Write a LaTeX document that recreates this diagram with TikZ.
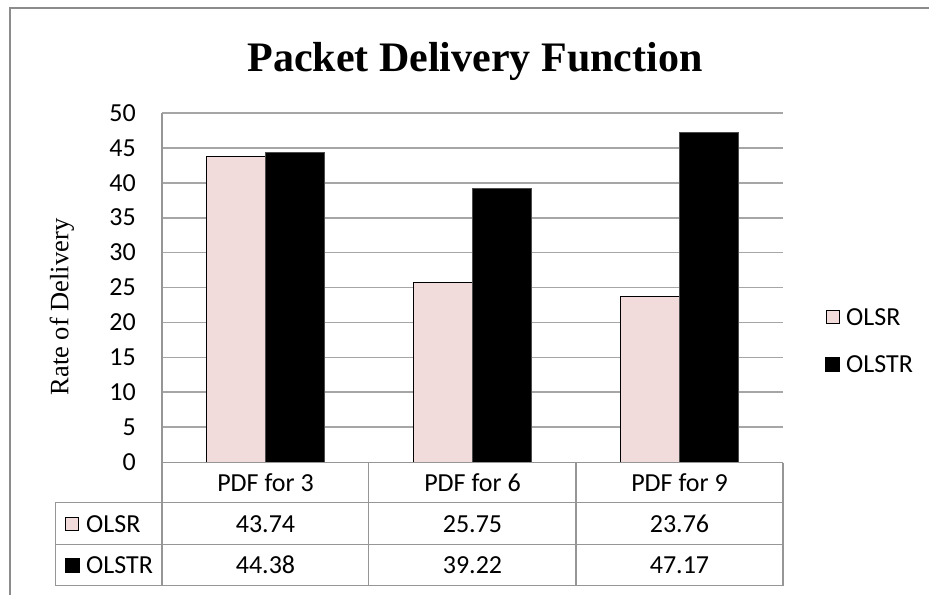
\documentclass[tikz,border=0pt]{standalone}
\usepackage{fontspec}
\setmainfont{Carlito}
\newfontfamily\tnr{Liberation Serif}
\definecolor{pinkbar}{HTML}{F2DCDB}
\definecolor{gridgray}{HTML}{A6A6A6}
\definecolor{tablegray}{HTML}{969696}
\definecolor{framegray}{HTML}{8C8C8C}
\begin{document}
\begin{tikzpicture}[x=1pt,y=-1pt,
  gridline/.style={gridgray, line width=1.6pt},
  tabline/.style={tablegray, line width=1.4pt},
  olsrbar/.style={fill=pinkbar, draw=black, line width=1pt},
  olstrbar/.style={fill=black, draw=black!70, line width=0.8pt},
  lbl/.style={inner sep=0pt, text height=16.5pt, text depth=0pt, font=\fontsize{26}{30}\selectfont},
  keyolsr/.style={fill=pinkbar, draw=black, line width=1pt, minimum size=13pt, inner sep=0pt},
  keyolstr/.style={fill=black, draw=black, minimum size=14pt, inner sep=0pt}]
\useasboundingbox (0,0) rectangle (929,595);
% outer frame
\draw[framegray, line width=2pt] (10,595) -- (10,8) -- (929,8);
% title
\node[inner sep=0pt, anchor=base, font=\tnr\bfseries\fontsize{42}{48}\selectfont] (title) at (475,71) {Packet Delivery Function};
% y axis title
\node[inner sep=0pt, rotate=90, font=\tnr\fontsize{26.5}{30}\selectfont] (ytitle) at (62,307) {Rate of Delivery};
% gridlines and tick labels
\foreach \v in {0,5,...,50} {
  \pgfmathsetmacro{\yy}{462-6.98*\v}
  \ifnum\v>0 \draw[gridline] (162,\yy) -- (783,\yy); \fi
  \node[lbl, anchor=east] (tick\v) at (136,\yy) {\v};
}
% bars
\foreach \i/\a/\b in {0/43.74/44.38, 1/25.75/39.22, 2/23.76/47.17} {
  \pgfmathsetmacro{\c}{265.5+207*\i}
  \pgfmathsetmacro{\ya}{462-6.98*\a}
  \pgfmathsetmacro{\yb}{462-6.98*\b}
  \draw[olsrbar] (\c-59,462.7) rectangle (\c,\ya);
  \draw[olstrbar] (\c,462.7) rectangle (\c+59,\yb);
}
% table lines
\draw[tabline] (162,113) -- (162,585.7);
\draw[tabline] (162,462.7) -- (783,462.7);
\draw[tabline] (55.3,502.7) -- (783,502.7);
\draw[tabline] (55.3,544.7) -- (783,544.7);
\draw[tabline] (55.3,585.7) -- (783,585.7);
\draw[tabline] (55.3,502.7) -- (55.3,585.7);
\draw[tabline] (368.5,462.7) -- (368.5,585.7);
\draw[tabline] (576,462.7) -- (576,585.7);
\draw[tabline] (783,462.7) -- (783,585.7);
% header
\node[lbl] (h1) at (265.5,483) {PDF for 3};
\node[lbl] (h2) at (472.5,483) {PDF for 6};
\node[lbl] (h3) at (679.5,483) {PDF for 9};
% rows
\node[keyolsr] (rk1) at (72,524) {};
\node[lbl, anchor=west] (rl1) at (86,524) {OLSR};
\node[keyolstr] (rk2) at (72.5,565.5) {};
\node[lbl, anchor=west] (rl2) at (86,565.5) {OLSTR};
\node[lbl] (v11) at (265.5,524) {43.74};
\node[lbl] (v12) at (472.5,524) {25.75};
\node[lbl] (v13) at (679.5,524) {23.76};
\node[lbl] (v21) at (265.5,565.5) {44.38};
\node[lbl] (v22) at (472.5,565.5) {39.22};
\node[lbl] (v23) at (679.5,565.5) {47.17};
% legend
\node[keyolsr] (lk1) at (832.5,317) {};
\node[lbl, anchor=west] (ll1) at (846,317) {OLSR};
\node[keyolstr] (lk2) at (832.5,364) {};
\node[lbl, anchor=west] (ll2) at (846,364) {OLSTR};
\end{tikzpicture}
\end{document}
